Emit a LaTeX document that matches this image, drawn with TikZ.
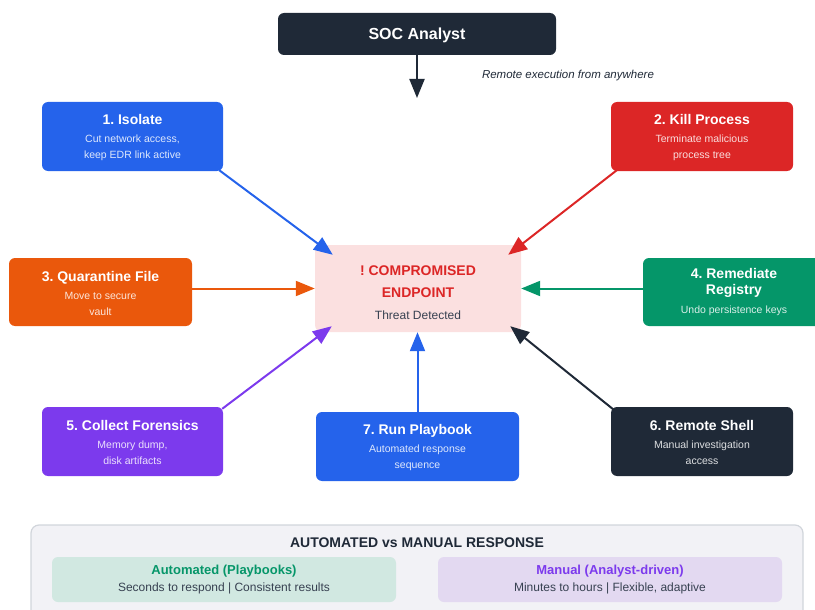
\documentclass[tikz,border=0pt]{standalone}
\usepackage{fontspec}
\setmainfont{Liberation Sans}
\usetikzlibrary{arrows.meta,calc}
\frenchspacing

\definecolor{navy}{HTML}{1F2937}
\definecolor{isoblue}{HTML}{2563EB}
\definecolor{killred}{HTML}{DC2626}
\definecolor{quarorange}{HTML}{EA580C}
\definecolor{regreen}{HTML}{059669}
\definecolor{forpurple}{HTML}{7C3AED}
\definecolor{epfill}{HTML}{FBE0E0}
\definecolor{panelfill}{HTML}{F2F2F6}
\definecolor{panelline}{HTML}{D1D5DB}
\definecolor{autofill}{HTML}{D1E8E1}
\definecolor{manfill}{HTML}{E3D9F1}
\definecolor{bodytext}{HTML}{374151}

\newcommand{\actiontitle}[1]{{\fontsize{14}{16}\selectfont\bfseries\color{white}#1}}

\tikzset{
  actionbox/.style={rectangle, rounded corners=6pt, fill=#1, text=white!85!#1,
    minimum height=69pt, align=center, inner sep=0pt,
    font=\fontsize{10.5}{16}\selectfont},
  link/.style={draw=#1, line width=2pt, -{Triangle[length=19pt,width=15pt]}},
}

\begin{document}
\begin{tikzpicture}[x=1pt,y=-1pt]
\useasboundingbox (0,0) rectangle (815,610);

% analyst at the top
\node[rectangle, rounded corners=6pt, fill=navy, text=white, minimum width=278pt,
      minimum height=42pt, font=\fontsize{16}{18}\selectfont\bfseries]
  (soc) at (417,34) {\rule{0pt}{15pt}SOC Analyst};
\coordinate (socend) at (417,98);
\draw[link=navy] (soc.south) -- (socend);
\node[font=\fontsize{11.5}{13}\selectfont\itshape, text=navy] (remote) at (568,76)
  {Remote execution from anywhere};

% compromised endpoint
\node[rectangle, rounded corners=7pt, fill=epfill, minimum width=206pt,
      minimum height=87pt, align=center, inner sep=0pt,
      font=\fontsize{14}{22}\selectfont]
  (ep) at (418,288.5)
  {\rule{0pt}{19pt}{\bfseries\color{killred}! COMPROMISED}\\
   {\bfseries\color{killred}ENDPOINT}\\
   {\fontsize{12}{22}\selectfont\color{bodytext}Threat Detected}};

% response actions
\node[actionbox=isoblue, minimum width=181pt] (iso) at (132.5,136.5)
  {\rule{0pt}{13pt}\actiontitle{1. Isolate}\\[2pt]Cut network access,\\keep EDR link active};
\node[actionbox=killred, minimum width=182pt] (kill) at (702,136.5)
  {\rule{0pt}{13pt}\actiontitle{2. Kill Process}\\[2pt]Terminate malicious\\process tree};
\node[actionbox=quarorange, minimum width=183pt, minimum height=68pt] (quar) at (100.5,292)
  {\rule{0pt}{13pt}\actiontitle{3. Quarantine File}\\[2pt]Move to secure\\vault};
\node[actionbox=regreen, minimum width=182pt, minimum height=68pt] (rem) at (734,292)
  {\actiontitle{4. Remediate}\\\actiontitle{Registry}\\[3pt]Undo persistence keys};
\node[actionbox=forpurple, minimum width=181pt] (for) at (132.5,441.5)
  {\rule{0pt}{13pt}\actiontitle{5. Collect Forensics}\\[2pt]Memory dump,\\disk artifacts};
\node[actionbox=navy, minimum width=182pt] (shell) at (702,441.5)
  {\rule{0pt}{13pt}\actiontitle{6. Remote Shell}\\[2pt]Manual investigation\\access};
\node[actionbox=isoblue, minimum width=203pt] (play) at (417.5,446.5)
  {\rule{0pt}{13pt}\actiontitle{7. Run Playbook}\\[2pt]Automated response\\sequence};

% connectors into the endpoint
\draw[link=isoblue] ($(iso.south east)+(-4,-1)$) -- ($(ep.north west)+(18,10)$);
\draw[link=killred] ($(kill.south west)+(6,-1)$) -- ($(ep.north east)+(-13,10)$);
\draw[link=quarorange] (ep.west -| quar.east) -- (ep.west);
\draw[link=regreen] (ep.east -| rem.west) -- (ep.east);
\draw[link=forpurple] ($(for.north east)+(-1,2)$) -- ($(ep.south west)+(17,-6)$);
\draw[link=navy] ($(shell.north west)+(3,3)$) -- ($(ep.south east)+(-11,-6)$);
\draw[link=isoblue] (play.north) -- (play.north |- ep.south);

% comparison panel
\draw[panelline, line width=1.2pt, fill=panelfill, rounded corners=8pt]
  (31,525) rectangle (803,640);
\node[font=\fontsize{14}{16}\selectfont\bfseries, text=navy] (cmp) at (417,543)
  {AUTOMATED vs MANUAL RESPONSE};
\node[rectangle, rounded corners=6pt, fill=autofill, minimum width=344pt,
      minimum height=45pt, align=center, inner sep=0pt, text=bodytext,
      font=\fontsize{12}{17}\selectfont] (auto) at (224,579.5)
  {{\fontsize{13}{17}\selectfont\bfseries\color{regreen}Automated (Playbooks)}\\
   Seconds to respond | Consistent results};
\node[rectangle, rounded corners=6pt, fill=manfill, minimum width=344pt,
      minimum height=45pt, align=center, inner sep=0pt, text=bodytext,
      font=\fontsize{12}{17}\selectfont] (man) at (610,579.5)
  {{\fontsize{13}{17}\selectfont\bfseries\color{forpurple}Manual (Analyst-driven)}\\
   Minutes to hours | Flexible, adaptive};
\end{tikzpicture}
\end{document}
